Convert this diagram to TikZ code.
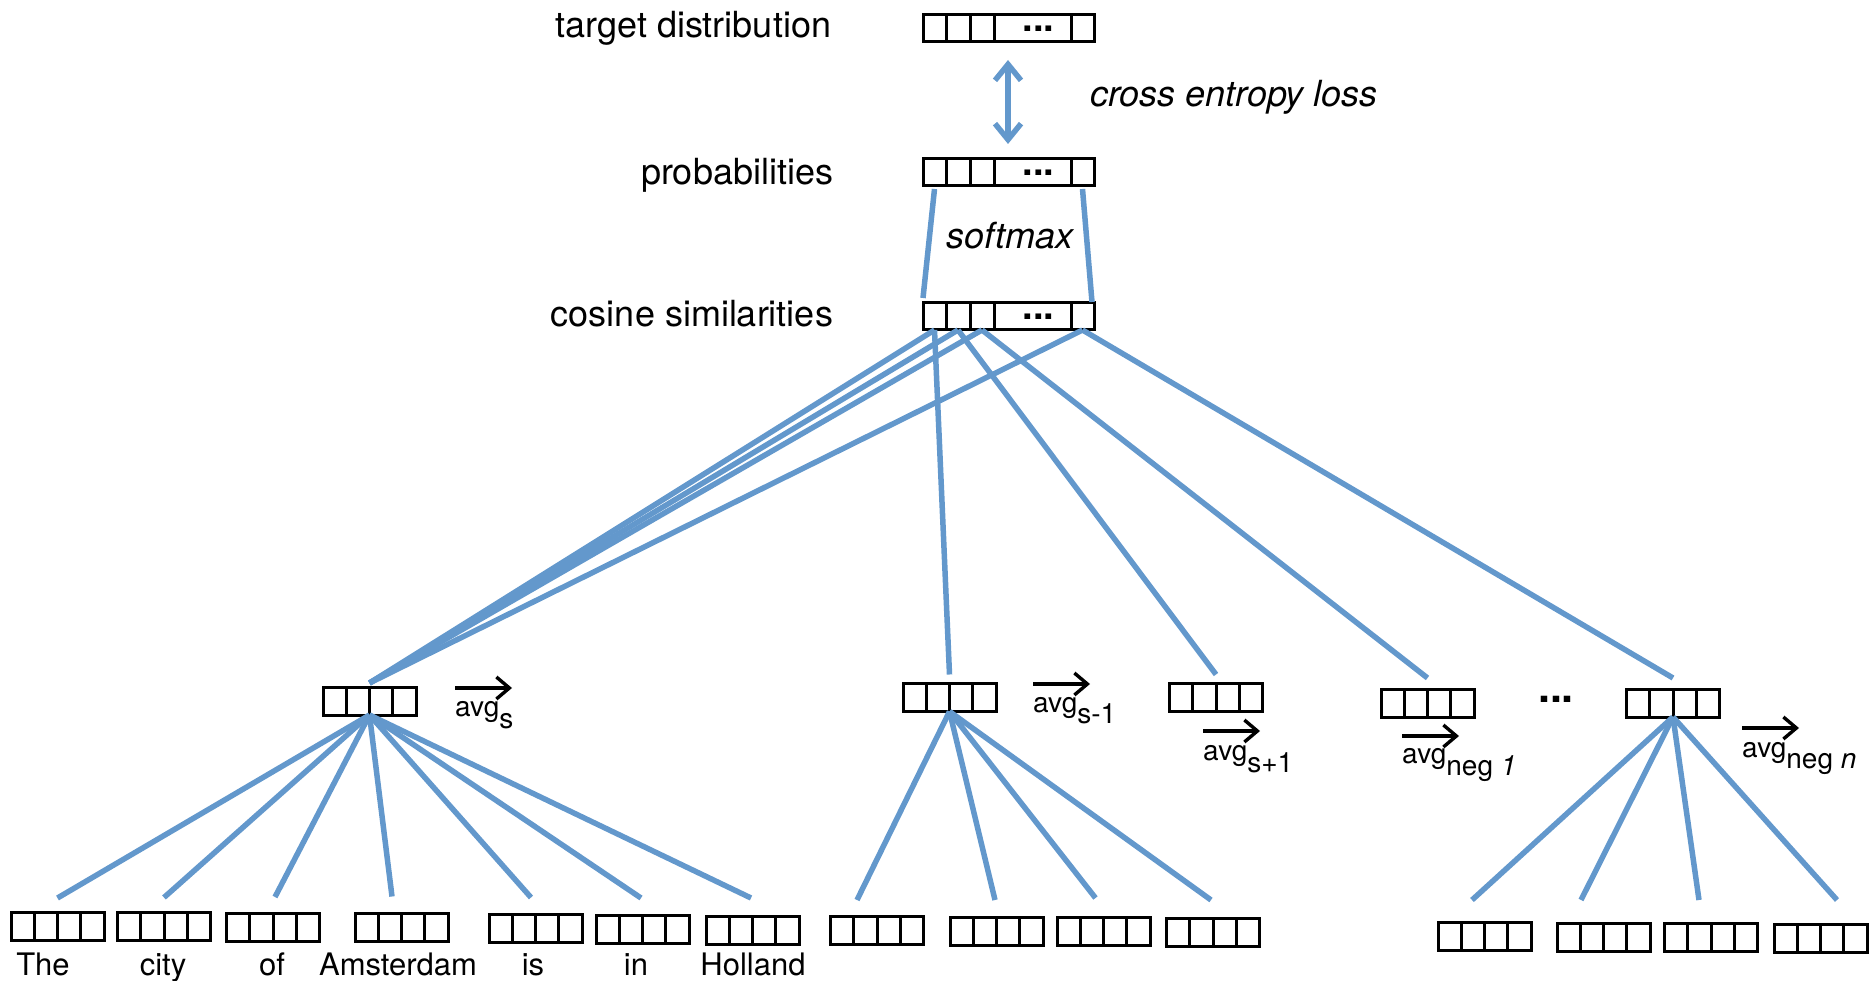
\documentclass[tikz,border=0pt]{standalone}
\usepackage{fontspec}
\setmainfont{TeX Gyre Heros}
\usetikzlibrary{arrows.meta,calc}
\definecolor{lineblue}{RGB}{99,152,204}
\newcommand{\fsz}[1]{\fontsize{#1}{#1}\selectfont}
\newcommand{\fivebox}[2]{%
  \node[cellA, minimum width=23pt] (#11) at (934.5,#2) {};
  \node[cellA, minimum width=24pt] (#12) at (958,#2) {};
  \node[cellA, minimum width=24pt] (#13) at (982,#2) {};
  \node[cellA, minimum width=77pt] (#14) at (1032.5,#2) {};
  \node[cellA, minimum width=23pt] (#15) at (1082.5,#2) {};
  \node[dotsA] (#1dots) at ([xshift=6pt,yshift=-3pt]#14.center) {...};
}
\tikzset{
  lbl/.style={inner sep=0pt, outer sep=0pt, font=\fsz{36pt}},
  word/.style={inner sep=0pt, anchor=base, font=\fsz{31pt}},
  avgl/.style={inner sep=0pt, anchor=base west, font=\fsz{28pt}},
  cellA/.style={draw, line width=3pt, minimum height=27pt, inner sep=0pt, outer sep=0pt},
  qbox/.style={draw, line width=3pt, minimum width=93pt, minimum height=28pt, inner sep=0pt, outer sep=0pt,
    path picture={
      \foreach \f in {0.25,0.5,0.75}{
        \draw[line width=3pt] ($(path picture bounding box.south west)!\f!(path picture bounding box.south east)$) --
          ($(path picture bounding box.north west)!\f!(path picture bounding box.north east)$);
      }}},
  conn/.style={draw=lineblue, line width=5.5pt},
  vec/.style={draw=black, line width=3.4pt, -{Straight Barb[length=13pt,width=22pt]}},
  dotsA/.style={inner sep=0pt, anchor=base, font=\fsz{38pt}\bfseries}
}
\begin{document}
\begin{tikzpicture}[x=1pt,y=-1pt]
\useasboundingbox (0,0) rectangle (1876,981);

% top vectors
\fivebox{t}{28.5}
\fivebox{p}{172.5}
\fivebox{c}{316.5}

% left labels
\node[lbl, anchor=base east] (ltd) at (831,38) {target distribution};
\node[lbl, anchor=base east] (lpr) at (833,185) {probabilities};
\node[lbl, anchor=base east] (lcs) at (833,327) {cosine similarities};
\node[lbl, anchor=base west, font=\fsz{36pt}\itshape] (lce) at (1090,107) {cross entropy loss};
\node[lbl, anchor=base, font=\fsz{36pt}\itshape] (lsm) at (1010,249) {softmax};

% cross entropy arrow
\draw[conn, {Straight Barb[length=16pt,width=26pt]}-{Straight Barb[length=16pt,width=26pt]}]
  ([xshift=-24.5pt,yshift=-18pt]t4.south) -- ([xshift=-24.5pt,yshift=15pt]p4.north);

% softmax lines
\draw[conn] ([yshift=-3pt]p1.south) -- ([yshift=5pt]c1.north west);
\draw[conn] ([yshift=-3pt]p5.south) -- ([xshift=-2pt,yshift=1pt]c5.north east);

% average vectors
\node[qbox] (as) at (369.5,701) {};
\node[qbox] (am) at (949.5,697.5) {};
\node[qbox] (ap) at (1216,697.5) {};
\node[qbox] (n1) at (1427.5,703) {};
\node[qbox] (nn) at (1673,703) {};
\node[inner sep=0pt, anchor=base, font=\fsz{43pt}\bfseries] (dd) at (1556,702) {...};

% avg labels
\node[avgl] (ls) at (455,716) {avg\raisebox{-12pt}{s}};
\draw[vec] ([yshift=28pt]ls.base west) -- ++(57,0);
\node[avgl] (lm) at (1033,712) {avg\raisebox{-11pt}{s-1}};
\draw[vec] ([yshift=28pt]lm.base west) -- ++(57,0);
\node[avgl] (lp) at (1203,760) {avg\raisebox{-12pt}{s+1}};
\draw[vec] ([yshift=29pt]lp.base west) -- ++(57,0);
\node[avgl] (ln1) at (1402,763) {avg\raisebox{-12pt}{neg \textit{1}}};
\draw[vec] ([yshift=27pt]ln1.base west) -- ++(57,0);
\node[avgl] (lnn) at (1742,757) {avg\raisebox{-11pt}{neg \textit{n}}};
\draw[vec] ([yshift=29pt]lnn.base west) -- ++(57,0);

% cosine -> averages
\draw[conn] (c1.south) -- ([yshift=4pt]as.north);
\draw[conn] (c2.south) -- ([yshift=4pt]as.north);
\draw[conn] (c3.south) -- ([yshift=4pt]as.north);
\draw[conn] (c5.south) -- ([yshift=4pt]as.north);
\draw[conn] (c1.south) -- ([yshift=9pt]am.north);
\draw[conn] (c2.south) -- ([yshift=9pt]ap.north);
\draw[conn] (c3.south) -- ([yshift=11pt]n1.north);
\draw[conn] (c5.south) -- ([yshift=11pt]nn.north);

% word vectors, sentence
\node[qbox] (w1) at (57.5,926) {};
\node[qbox] (w2) at (164,926.5) {};
\node[qbox] (w3) at (273,927) {};
\node[qbox] (w4) at (401.5,927.5) {};
\node[qbox] (w5) at (535.5,928.5) {};
\node[qbox] (w6) at (642.5,929) {};
\node[qbox] (w7) at (752.5,930) {};
\node[word] (x1) at (43,975) {The};
\node[word] (x2) at (163,975) {city};
\node[word] (x3) at (272,975) {of};
\node[word] (x4) at (398,975) {Amsterdam};
\node[word] (x5) at (533,975) {is};
\node[word] (x6) at (636,975) {in};
\node[word] (x7) at (753,975) {Holland};

\draw[conn] (as.south) -- ([yshift=14pt]w1.north);
\draw[conn] (as.south) -- ([yshift=15pt]w2.north);
\draw[conn] (as.south) -- ([xshift=2pt,yshift=16pt]w3.north);
\draw[conn] (as.south) -- ([xshift=-9.5pt,yshift=17pt]w4.north);
\draw[conn] (as.south) -- ([xshift=-4.5pt,yshift=17pt]w5.north);
\draw[conn] (as.south) -- ([xshift=-1.5pt,yshift=17pt]w6.north);
\draw[conn] (as.south) -- ([xshift=-1.5pt,yshift=18pt]w7.north);

% word vectors, previous sentence
\node[qbox] (v1) at (877,930) {};
\node[qbox] (v2) at (996.5,931) {};
\node[qbox] (v3) at (1103.5,931) {};
\node[qbox] (v4) at (1213,932) {};
\draw[conn] (am.south) -- ([xshift=-20pt,yshift=16pt]v1.north);
\draw[conn] (am.south) -- ([xshift=-1.5pt,yshift=17pt]v2.north);
\draw[conn] (am.south) -- ([xshift=-8pt,yshift=19pt]v3.north);
\draw[conn] (am.south) -- ([xshift=-2pt,yshift=18pt]v4.north);

% word vectors, negative n
\node[qbox] (u1) at (1484.5,936) {};
\node[qbox] (u2) at (1603.5,937) {};
\node[qbox] (u3) at (1711,937) {};
\node[qbox] (u4) at (1820.5,938) {};
\draw[conn] (nn.south) -- ([xshift=-12.5pt,yshift=22pt]u1.north);
\draw[conn] (nn.south) -- ([xshift=-22.5pt,yshift=23pt]u2.north);
\draw[conn] (nn.south) -- ([xshift=-12pt,yshift=23pt]u3.north);
\draw[conn] (nn.south) -- ([xshift=16.5pt,yshift=24pt]u4.north);
\end{tikzpicture}
\end{document}
